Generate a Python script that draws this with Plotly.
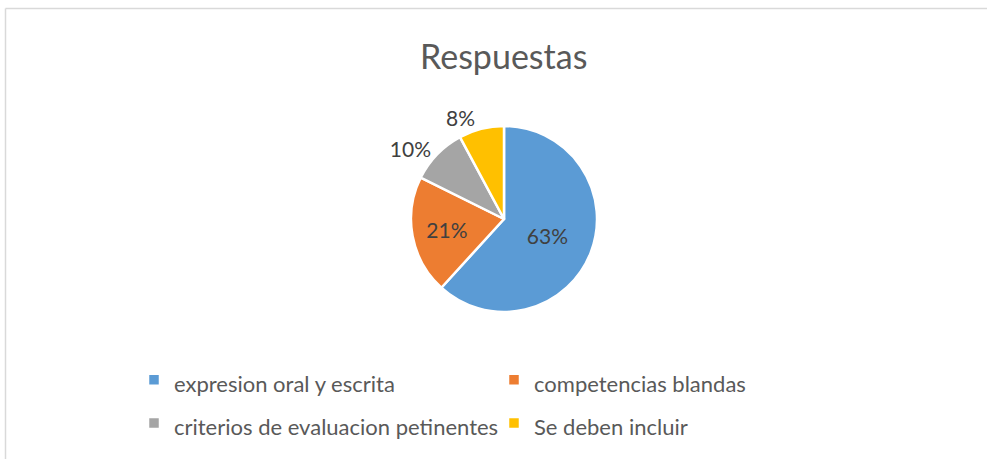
import plotly.graph_objects as go

categories = ["expresion oral y escrita", "competencias blandas",
              "criterios de evaluacion petinentes", "Se deben incluir"]
percentages = [63, 21, 10, 8]
colors = ["#5B9BD5", "#ED7D31", "#A5A5A5", "#FFC000"]
positions = ["inside", "inside", "outside", "outside"]

W, H = 987, 459
FONT = "Lato"
LEG_SIZE = 22

fig = go.Figure()
fig.add_trace(go.Pie(
    labels=[f'<span style="font-size:{LEG_SIZE}px">{c}</span>' for c in categories],
    values=percentages,
    text=[f"{p}%" for p in percentages],
    textinfo="text",
    textposition=positions,
    insidetextorientation="horizontal",
    sort=False,
    direction="clockwise",
    rotation=0,
    marker=dict(colors=colors, line=dict(color="white", width=2.5)),
    textfont=dict(family=FONT, size=21, color="#404040"),
    domain=dict(x=[411 / W, 597 / W], y=[(H - 312) / H, (H - 126) / H]),
    hovertext=categories,
    hoverinfo="text+percent",
))

fig.add_annotation(text="Respuestas", x=504 / W, y=(H - 55) / H, xref="paper", yref="paper",
                   xanchor="center", yanchor="middle", showarrow=False,
                   font=dict(family=FONT, size=34, color="#595959"))

# chart area border (top and left visible)
fig.add_shape(type="line", xref="paper", yref="paper", x0=5.5 / W, x1=1, y0=(H - 8.5) / H, y1=(H - 8.5) / H,
              line=dict(color="#D9D9D9", width=1.5))
fig.add_shape(type="line", xref="paper", yref="paper", x0=5.5 / W, x1=5.5 / W, y0=0, y1=(H - 8.5) / H,
              line=dict(color="#D9D9D9", width=1.5))

fig.update_layout(
    width=W, height=H,
    margin=dict(l=0, r=0, t=0, b=0),
    paper_bgcolor="white", plot_bgcolor="white",
    showlegend=True,
    legend=dict(orientation="h", x=134 / W, y=(H - 353) / H, xanchor="left", yanchor="top",
                entrywidth=315, entrywidthmode="pixels",
                font=dict(family=FONT, size=31, color="#595959"),
                traceorder="normal"),
)

fig.write_html("out.html", config={"displayModeBar": False},
               post_script="document.body.style.margin='0';")
